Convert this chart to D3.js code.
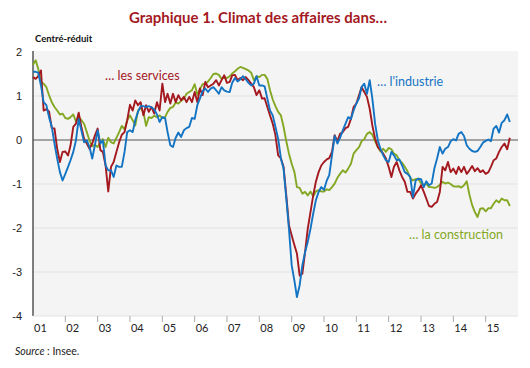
<!DOCTYPE html>
<html>
<head>
<meta charset="utf-8">
<script src="https://cdn.jsdelivr.net/npm/d3@7"></script>
<style>
  body { margin: 0; background: #fff; }
  svg { display: block; font-family: 'Lato', 'Noto Sans', sans-serif; }
  .grid line { stroke: #e2e2e2; stroke-width: 1; }
  .zero { stroke: #8a8a8a; stroke-width: 1.6; }
  .axis text { fill: #222; font-size: 11px; }
  .line { fill: none; stroke-width: 1.9; stroke-linejoin: round; }
</style>
</head>
<body>
<div id="chart"></div>
<script>
// Monthly series, from January 2001 to October 2015
const startYear = 2001;

const services = [
  1.43, 1.39, 1.45, 1.58, 0.67, 0.70, 0.65, 0.27, 0.26, -0.20, -0.50, -0.27,
  -0.26, -0.35, -0.12, 0.30, 0.37, 0.62, 0.30, 0.03, -0.08, -0.20, -0.08, 0.10,
  0.26, -0.23, -0.27, -0.58, -1.17, -0.61, -0.50, -0.27, -0.05, 0.12, 0.18, 0.45,
  0.80, 0.67, 0.90, 0.79, 0.86, 0.56, 0.79, 0.64, 0.75, 0.60, 0.86, 0.67,
  1.28, 0.86, 1.05, 0.83, 1.05, 0.86, 1.02, 0.90, 0.98, 0.86, 0.98, 0.86,
  1.09, 0.86, 1.17, 1.02, 1.32, 1.20, 1.24, 1.28, 1.36, 1.24, 1.36, 1.47,
  1.30, 1.32, 1.47, 1.48, 1.36, 1.41, 1.36, 1.43, 1.36, 1.28, 1.20, 1.02,
  1.13, 0.94, 0.95, 0.75, 0.56, 0.37, 0.11, -0.35, -0.42, -0.61, -1.26, -1.94,
  -2.17, -2.39, -2.58, -3.08, -3.04, -2.55, -2.02, -1.64, -1.26, -0.95, -0.73, -0.58,
  -0.50, -0.44, -0.41, -0.27, 0.11, -0.03, 0.14, 0.18, 0.27, 0.30, 0.48, 0.75,
  0.83, 1.02, 1.20, 1.09, 0.98, 0.71, 0.33, 0.03, -0.16, -0.23, -0.31, -0.42,
  -0.61, -0.84, -0.61, -0.50, -0.69, -0.84, -0.95, -1.18, -1.18, -1.33, -1.22, -1.14,
  -1.03, -1.18, -1.33, -1.50, -1.52, -1.45, -1.41, -1.18, -0.61, -0.69, -0.50, -0.73,
  -0.65, -0.77, -0.61, -0.73, -0.61, -0.77, -0.69, -0.59, -0.71, -0.64, -0.73, -0.69,
  -0.77, -0.73, -0.61, -0.46, -0.42, -0.27, -0.16, -0.08, -0.21, 0.05,
];

const industrie = [
  1.55, 1.55, 1.53, 1.24, 0.86, 0.79, 0.52, 0.30, -0.08, -0.42, -0.73, -0.92,
  -0.77, -0.61, -0.46, -0.27, -0.01, 0.48, 0.22, -0.05, -0.01, -0.16, -0.42, -0.12,
  0.22, -0.08, -0.01, -0.58, -0.69, -0.69, -0.84, -0.58, -0.61, -0.61, -0.27, 0.18,
  0.22, 0.18, 0.45, 0.64, 0.77, 0.77, 0.75, 0.77, 0.74, 0.70, 0.58, 0.41,
  0.52, 0.50, 0.18, -0.12, -0.16, 0.05, 0.17, 0.07, 0.22, 0.27, 0.30, 0.50,
  0.48, 0.80, 0.94, 1.11, 1.17, 1.09, 1.17, 1.20, 1.13, 1.05, 1.20, 1.13,
  1.10, 1.09, 1.30, 1.41, 1.33, 1.38, 1.45, 1.38, 1.30, 1.24, 1.28, 1.45,
  1.24, 1.24, 1.22, 0.94, 0.67, 0.56, 0.30, 0.03, -0.42, -0.65, -1.33, -2.02,
  -2.85, -3.20, -3.57, -3.30, -2.85, -2.55, -2.32, -2.02, -1.67, -1.37, -1.18, -1.07,
  -1.13, -0.92, -0.80, -0.35, 0.09, -0.08, 0.05, 0.22, 0.37, 0.52, 0.48, 0.67,
  0.83, 0.95, 1.20, 1.28, 1.05, 1.36, 0.94, 0.37, -0.01, -0.20, -0.35, -0.46,
  -0.50, -0.27, -0.35, -0.46, -0.44, -0.58, -0.73, -0.77, -0.84, -1.30, -0.92, -0.88,
  -0.89, -1.07, -0.94, -1.03, -0.99, -0.64, -0.42, -0.16, -0.31, -0.20, -0.16, -0.03,
  0.02, -0.01, 0.14, 0.18, 0.09, -0.12, -0.20, -0.25, -0.27, -0.25, -0.16, -0.06,
  -0.02, 0.01, -0.03, 0.26, 0.32, 0.17, 0.39, 0.45, 0.58, 0.41,
];

const construction = [
  1.71, 1.81, 1.62, 1.32, 1.28, 1.20, 1.02, 0.86, 0.75, 0.67, 0.58, 0.60,
  0.50, 0.48, 0.52, 0.58, 0.42, 0.52, 0.45, 0.37, 0.18, -0.01, -0.14, -0.11,
  -0.16, -0.05, 0.02, -0.16, 0.05, -0.05, -0.08, 0.05, 0.18, 0.32, 0.24, 0.45,
  0.56, 0.45, 0.33, 0.67, 0.73, 0.64, 0.32, 0.52, 0.50, 0.55, 0.52, 0.56,
  0.50, 0.52, 0.64, 0.73, 0.75, 0.85, 0.83, 0.89, 0.94, 1.05, 1.09, 1.13,
  1.27, 1.03, 1.15, 1.27, 1.28, 1.33, 1.41, 1.50, 1.51, 1.48, 1.39, 1.42,
  1.41, 1.45, 1.51, 1.56, 1.62, 1.66, 1.64, 1.61, 1.58, 1.53, 1.36, 1.45,
  1.43, 1.48, 1.48, 1.39, 1.13, 0.92, 0.77, 0.64, 0.56, 0.30, -0.03, -0.31,
  -0.54, -0.73, -1.07, -1.09, -1.22, -1.18, -1.26, -1.17, -1.28, -1.17, -1.14, -1.17,
  -1.17, -1.12, -1.14, -1.07, -0.99, -0.86, -0.77, -0.69, -0.74, -0.65, -0.54, -0.31,
  -0.23, -0.16, -0.03, 0.02, 0.14, 0.18, 0.12, -0.03, -0.16, -0.26, -0.20, -0.27,
  -0.18, -0.21, -0.31, -0.35, -0.46, -0.52, -0.61, -0.71, -0.86, -0.92, -0.89, -0.88,
  -0.99, -1.02, -0.99, -1.07, -1.07, -1.09, -1.07, -1.02, -0.95, -0.99, -0.97, -1.00,
  -1.05, -1.06, -1.05, -1.08, -1.03, -0.94, -1.24, -1.48, -1.64, -1.75, -1.56, -1.55,
  -1.62, -1.55, -1.55, -1.45, -1.37, -1.42, -1.33, -1.37, -1.37, -1.50,
];

const yTicks = [2, 1, 0, -1, -2, -3, -4];
const xYears = d3.range(2001, 2016);

const series = [
  { name: 'construction', label: '… la construction', values: construction, color: '#84a823', lx: 409, ly: 239 },
  { name: 'services', label: '… les services', values: services, color: '#a3191f', lx: 105, ly: 80 },
  { name: 'industrie', label: "… l'industrie", values: industrie, color: '#1474c4', lx: 377, ly: 86 },
];

const W = 530, H = 368;
const plot = { left: 33, right: 518, top: 51, bottom: 316 };

const x = d3.scaleTime()
  .domain([new Date(startYear, 0, 1), new Date(2016, 0, 1)])
  .range([plot.left, plot.right]);
const y = d3.scaleLinear().domain([-4, 2]).range([plot.bottom, 52]);

const svg = d3.select('#chart').append('svg')
  .attr('width', W)
  .attr('height', H);

// title
svg.append('text')
  .attr('x', 258).attr('y', 23)
  .attr('text-anchor', 'middle')
  .attr('fill', '#a3191f')
  .style('font-size', '15px')
  .style('font-weight', 'bold')
  .text('Graphique 1. Climat des affaires dans…');

svg.append('text')
  .attr('x', 35).attr('y', 42)
  .attr('fill', '#111')
  .style('font-size', '9.5px')
  .style('font-weight', 'bold')
  .text('Centré-réduit');

svg.append('rect')
  .attr('x', plot.left).attr('y', plot.top)
  .attr('width', plot.right - plot.left)
  .attr('height', plot.bottom - plot.top)
  .attr('fill', '#f4f4f4');

// gridlines
svg.append('g').attr('class', 'grid')
  .selectAll('line')
  .data(yTicks.filter((d) => d !== 0 && d !== 2 && d !== -4))
  .join('line')
  .attr('x1', plot.left).attr('x2', plot.right)
  .attr('y1', (d) => y(d)).attr('y2', (d) => y(d));

svg.append('line')
  .attr('class', 'zero')
  .attr('x1', plot.left).attr('x2', plot.right)
  .attr('y1', y(0)).attr('y2', y(0));

// y axis
const yAxis = svg.append('g')
  .attr('class', 'axis')
  .attr('transform', `translate(${plot.left},0)`)
  .call(d3.axisLeft(y).tickValues(yTicks).tickSize(0).tickPadding(11).tickFormat((d) => String(d)));
yAxis.select('.domain').remove();

svg.append('line')
  .attr('x1', plot.left).attr('x2', plot.left)
  .attr('y1', plot.top).attr('y2', plot.bottom)
  .attr('stroke', '#555').attr('stroke-width', 1.5);

// x axis: ticks at year starts, labels just after each tick
svg.append('line')
  .attr('x1', plot.left).attr('x2', plot.right)
  .attr('y1', plot.bottom).attr('y2', plot.bottom)
  .attr('stroke', '#e2e2e2');

const xAxis = svg.append('g').attr('class', 'axis');
xAxis.selectAll('line')
  .data(xYears.slice(1))
  .join('line')
  .attr('x1', (d) => x(new Date(d, 0, 1))).attr('x2', (d) => x(new Date(d, 0, 1)))
  .attr('y1', plot.bottom).attr('y2', plot.bottom + 6)
  .attr('stroke', '#aaa');
xAxis.selectAll('text')
  .data(xYears)
  .join('text')
  .attr('x', (d) => x(new Date(d, 0, 1)) + 1)
  .attr('y', 332)
  .text((d) => String(d).slice(2));

// lines
const line = d3.line()
  .x((d, i) => x(new Date(startYear, i, 1)))
  .y((d) => y(d));

svg.selectAll('.line')
  .data(series)
  .join('path')
  .attr('class', 'line')
  .attr('stroke', (d) => d.color)
  .attr('d', (d) => line(d.values));

svg.selectAll('.label')
  .data(series)
  .join('text')
  .attr('class', 'label')
  .attr('x', (d) => d.lx).attr('y', (d) => d.ly)
  .attr('fill', (d) => d.color)
  .style('font-size', '12.5px')
  .text((d) => d.label);

// source
const src = svg.append('text')
  .attr('x', 15).attr('y', 355)
  .attr('fill', '#222')
  .style('font-size', '10.5px');
src.append('tspan').style('font-style', 'italic').text('Source');
src.append('tspan').text(' : Insee.');
</script>
</body>
</html>
